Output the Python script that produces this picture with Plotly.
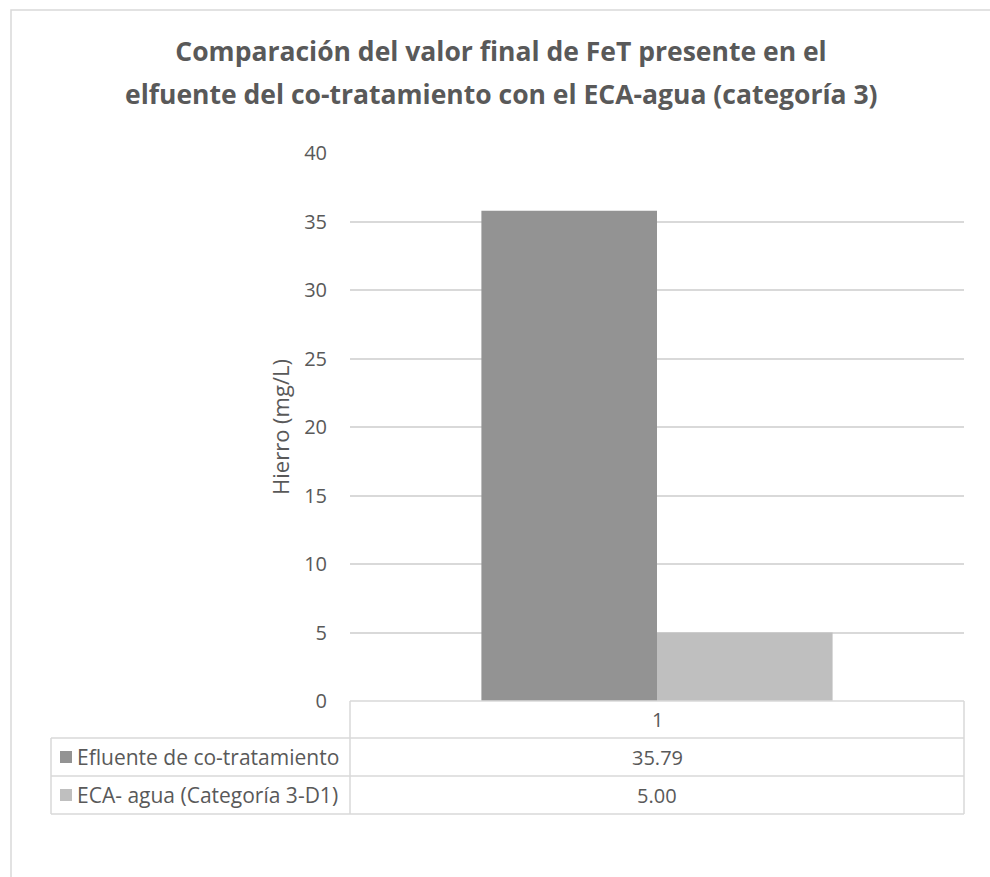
import plotly.graph_objects as go

# ---- data ----
categories = ["1"]
series_names = ["Efluente de co-tratamiento", "ECA- agua (Categoría 3-D1)"]
series_values = [[35.79], [5.00]]
series_colors = ["#939393", "#bfbfbf"]
y_ticks = [0, 5, 10, 15, 20, 25, 30, 35, 40]
title_lines = ["Comparación del valor final de FeT presente en el",
               "elfuente del co-tratamiento con el ECA-agua (categoría 3)"]
y_title = "Hierro (mg/L)"

W, H = 990, 877
FONT = "'Open Sans', sans-serif"
TXT = "#595959"
GRID = "#d9d9d9"

def px(x):
    return x / W

def py(y):
    return 1 - y / H

# plot area in pixels
PL, PR, PT, PB = 350, 964, 153, 701

fig = go.Figure()
for name, vals, col in zip(series_names, series_values, series_colors):
    fig.add_trace(go.Bar(x=categories, y=vals, name=name, marker=dict(color=col, line=dict(width=0))))

fig.update_layout(
    width=W, height=H,
    margin=dict(l=0, r=0, t=0, b=0, autoexpand=False),
    paper_bgcolor="white", plot_bgcolor="white",
    showlegend=False,
    barmode="group", bargap=0.428, bargroupgap=0,
    font=dict(family=FONT, color=TXT),
    title=dict(text=title_lines[0], x=501 / W, xanchor="center", y=py(52), yanchor="middle",
               font=dict(family=FONT, size=26.5, color=TXT, weight="bold")),
    xaxis=dict(domain=[px(PL), px(PR)], showticklabels=False, showgrid=False,
               zeroline=False, showline=False, ticks="", automargin=False),
    yaxis=dict(domain=[py(PB), py(PT)], range=[0, 40], tickvals=y_ticks,
               showgrid=True, gridcolor=GRID, gridwidth=1.5, zeroline=False,
               showline=False, ticks="", tickfont=dict(size=20, color=TXT),
               ticklabelstandoff=22, automargin=False,
               title=dict(text=y_title, font=dict(size=22, color=TXT), standoff=8)),
)

shapes = []
# outer chart border
shapes.append(dict(type="rect", xref="paper", yref="paper", x0=px(11), x1=px(1000),
                   y0=py(900), y1=py(10), line=dict(color=GRID, width=1.5)))

# data table
T_LEFT, T_DIV, T_RIGHT = 51, 350, 964
ROWS = [701, 738, 776, 814]
def hline(x0, x1, y):
    shapes.append(dict(type="line", xref="paper", yref="paper", x0=px(x0), x1=px(x1),
                       y0=py(y), y1=py(y), line=dict(color=GRID, width=1.5)))
def vline(x, y0, y1):
    shapes.append(dict(type="line", xref="paper", yref="paper", x0=px(x), x1=px(x),
                       y0=py(y0), y1=py(y1), line=dict(color=GRID, width=1.5)))

hline(T_DIV, T_RIGHT, ROWS[0])
for y in ROWS[1:]:
    hline(T_LEFT, T_RIGHT, y)
vline(T_DIV, ROWS[0], ROWS[3])
vline(T_RIGHT, ROWS[0], ROWS[3])
vline(T_LEFT, ROWS[1], ROWS[3])

annotations = []
# second title line
annotations.append(dict(text=title_lines[1], x=501 / W, y=py(94), xref="paper", yref="paper",
                        xanchor="center", yanchor="middle", showarrow=False,
                        font=dict(family=FONT, size=26.5, color=TXT, weight="bold")))
cx = (T_DIV + T_RIGHT) / 2
# header
annotations.append(dict(text=categories[0], x=px(cx), y=py((ROWS[0] + ROWS[1]) / 2),
                        xref="paper", yref="paper", showarrow=False,
                        xanchor="center", yanchor="middle",
                        font=dict(size=20, color=TXT)))
for i, (name, vals, col) in enumerate(zip(series_names, series_values, series_colors)):
    ymid = (ROWS[i + 1] + ROWS[i + 2]) / 2
    # legend key
    shapes.append(dict(type="rect", xref="paper", yref="paper", x0=px(60), x1=px(72),
                       y0=py(ymid + 6), y1=py(ymid - 6), fillcolor=col, line=dict(width=0)))
    annotations.append(dict(text=name, x=px(75), y=py(ymid), xref="paper", yref="paper",
                            xanchor="left", yanchor="middle", showarrow=False,
                            font=dict(size=21, color=TXT)))
    annotations.append(dict(text=f"{vals[0]:.2f}", x=px(cx), y=py(ymid), xref="paper",
                            yref="paper", xanchor="center", yanchor="middle", showarrow=False,
                            font=dict(size=20, color=TXT)))

fig.update_layout(shapes=shapes, annotations=annotations)
fig.write_html("out.html")
